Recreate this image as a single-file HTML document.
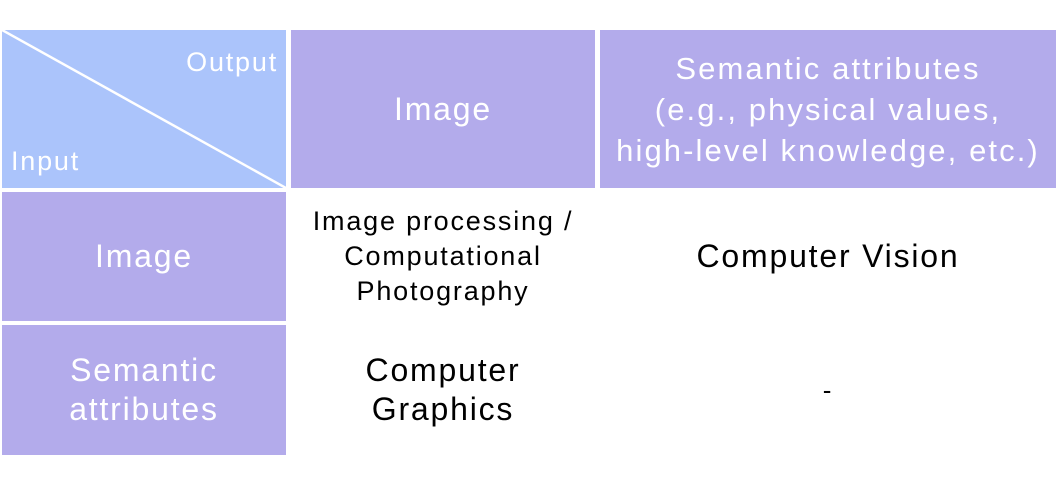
<!DOCTYPE html>
<html><head><meta charset="utf-8"><style>
body{margin:0;width:1061px;height:503px;background:#fff;position:relative;overflow:hidden;font-family:"Liberation Sans","DejaVu Sans",sans-serif;letter-spacing:1.8px}
.c{position:absolute;display:flex;align-items:center;justify-content:center;text-align:center;box-sizing:border-box}
.p{background:#b3abeb;color:#fff}
.w{color:#000}
</style></head><body>
<div class="c" style="left:2px;top:30px;width:284px;height:158px;background:#abc4fb">
<svg width="284" height="158" style="position:absolute;left:0;top:0"><line x1="0" y1="0" x2="284" y2="158" stroke="#fff" stroke-width="2.5"/></svg>
<span style="position:absolute;right:8px;top:17px;color:#fff;font-size:27px">Output</span>
<span style="position:absolute;left:9px;top:116px;color:#fff;font-size:27px">Input</span>
</div>
<div class="c p" style="left:291px;top:30px;width:304px;height:158px;font-size:32px">Image</div>
<div class="c p" style="left:600px;top:30px;width:456px;height:158px;font-size:31px;line-height:41px;letter-spacing:2.1px">Semantic attributes<br>(e.g., physical values,<br>high-level knowledge, etc.)</div>
<div class="c p" style="left:2px;top:192px;width:284px;height:129px;font-size:32px">Image</div>
<div class="c p" style="left:2px;top:325px;width:284px;height:130px;font-size:32px;line-height:39px">Semantic<br>attributes</div>
<div class="c w" style="left:291px;top:192px;width:304px;height:129px;font-size:27px;line-height:35px">Image processing /<br>Computational<br>Photography</div>
<div class="c w" style="left:600px;top:192px;width:456px;height:129px;font-size:32px">Computer Vision</div>
<div class="c w" style="left:291px;top:325px;width:304px;height:130px;font-size:32px;line-height:39px">Computer<br>Graphics</div>
<div class="c w" style="left:600px;top:325px;width:456px;height:130px;font-size:26px">-</div>
</body></html>
